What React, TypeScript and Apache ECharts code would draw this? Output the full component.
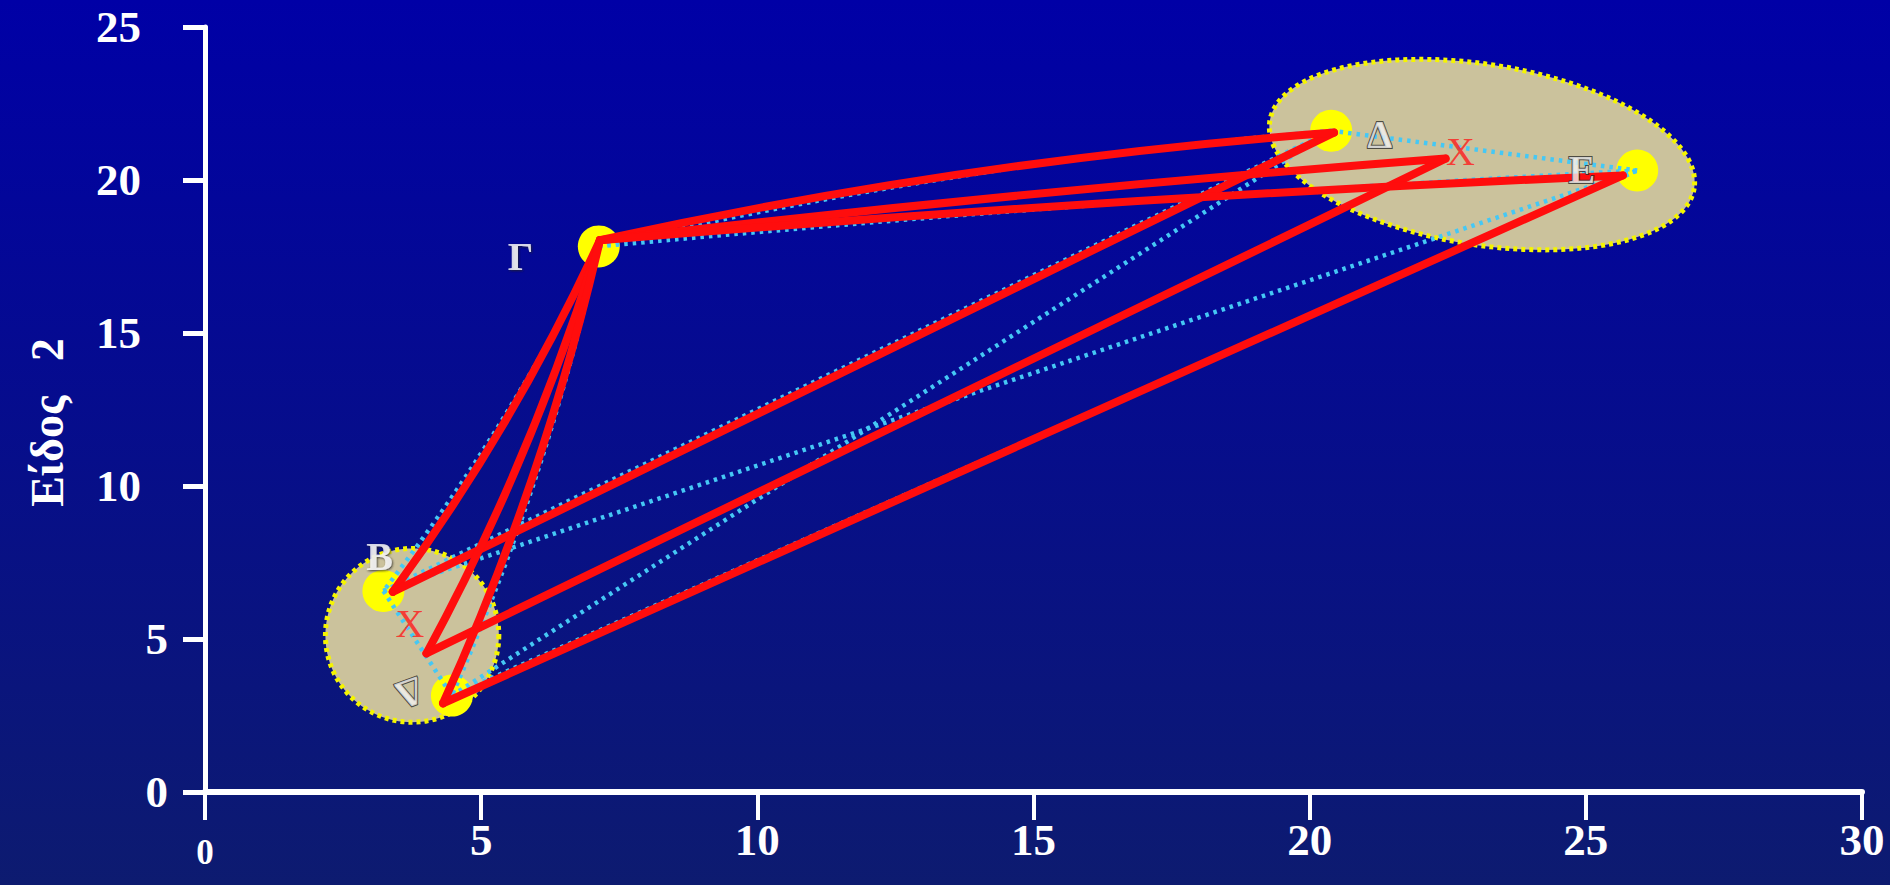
import React, { useEffect, useRef } from "react";
import * as echarts from "echarts";

// ---- axes ----
const xMin = 0, xMax = 30, xStep = 5;
const yMin = 0, yMax = 25, yStep = 5;
const yAxisTitle = "Είδος\u00A0\u00A0\u00A02";

// ---- objects (yellow points) ----
const objectKeys = ["B", "G", "D", "E", "D2"];
const objectX = [3.23, 7.13, 20.39, 25.93, 4.47];
const objectY = [6.57, 17.83, 21.61, 20.31, 3.15];

// ---- vertices of the red distance lines (objects + cluster centroids) ----
const vertexKeys = ["B", "G", "D", "E", "D2", "X1", "X2"];
const vertexX = [3.40, 7.15, 20.44, 25.67, 4.31, 4.01, 22.46];
const vertexY = [6.54, 18.03, 21.55, 20.15, 2.90, 4.53, 20.70];

// ---- red segments: three triangles sharing Γ ----
const redFrom = ["G", "B", "G", "G", "X1", "G", "G", "D2", "G"];
const redTo = ["B", "D", "D", "X1", "X2", "X2", "D2", "E", "E"];
const redCurve = [0.05, 0, 0.035, 0.05, 0, 0.01, 0.05, 0, 0.01];

// ---- cyan dotted segments: all pairs of objects ----
const cyanFrom = ["G", "G", "G", "G", "D", "B", "B", "B", "D2", "D2"];
const cyanTo = ["D", "E", "B", "D2", "E", "D2", "D", "E", "D", "E"];
const cyanCurve = [0.035, 0.01, 0.05, 0.05, 0, 0, 0, 0, 0, 0];

// ---- cluster ellipses ----
const clusterCx = [3.75, 23.12];
const clusterCy = [5.12, 20.83];
const clusterRx = [1.57, 3.89];
const clusterRy = [2.84, 2.95];
const clusterTiltDeg = [0, 9];

// ---- text labels ----
const labelText = ["B", "Γ", "Δ", "E", "Δ", "X", "X"];
const labelX = [3.16, 5.71, 21.27, 24.93, 3.71, 3.71, 22.73];
const labelY = [7.68, 17.5, 21.5, 20.35, 3.23, 5.5, 20.94];
const labelKind = ["white", "white", "emboss", "emboss", "embossRot", "red", "red"];

const SERIF = "'Liberation Serif', 'Times New Roman', serif";

function vx(k: string) { return vertexX[vertexKeys.indexOf(k)]; }
function vy(k: string) { return vertexY[vertexKeys.indexOf(k)]; }
function ox(k: string) { return objectX[objectKeys.indexOf(k)]; }
function oy(k: string) { return objectY[objectKeys.indexOf(k)]; }

export default function App() {
  const ref = useRef<HTMLDivElement>(null);

  useEffect(() => {
    if (!ref.current) return;
    const chart = echarts.init(ref.current, undefined, { renderer: "svg" });

    const redData = redFrom.map((f, i) => ({
      coords: [[vx(f), vy(f)], [vx(redTo[i]), vy(redTo[i])]],
      lineStyle: { curveness: redCurve[i] },
    }));
    const cyanData = cyanFrom.map((f, i) => ({
      coords: [[ox(f), oy(f)], [ox(cyanTo[i]), oy(cyanTo[i])]],
      lineStyle: { curveness: cyanCurve[i] },
    }));
    const ellipseData = clusterCx.map((cx, i) => [cx, clusterCy[i], clusterRx[i], clusterRy[i], clusterTiltDeg[i]]);

    const labelStyles: Record<string, any> = {
      white: { color: "#ffffff", fontSize: 40, fontWeight: "bold", textShadowColor: "#222", textShadowBlur: 2, textShadowOffsetX: 1, textShadowOffsetY: 1 },
      emboss: { color: "#f4f4f4", fontSize: 40, fontWeight: "bold", textBorderColor: "#2a2a2a", textBorderWidth: 2, textShadowColor: "#000", textShadowOffsetX: 2, textShadowOffsetY: 2 },
      embossRot: { color: "#f4f4f4", fontSize: 40, fontWeight: "bold", textBorderColor: "#2a2a2a", textBorderWidth: 2, rotate: -160 },
      red: { color: "#ff1a1a", fontSize: 40, fontWeight: "normal" },
    };
    const labelData = labelText.map((t, i) => ({
      name: t,
      value: [labelX[i], labelY[i]],
      label: { show: true, position: "inside", formatter: t, fontFamily: SERIF, ...labelStyles[labelKind[i]] },
    }));

    const option: any = {
      animation: false,
      backgroundColor: new echarts.graphic.LinearGradient(0, 0, 0, 1, [
        { offset: 0, color: "#0000a6" },
        { offset: 1, color: "#0d1b70" },
      ]),
      grid: { left: 205, right: 28, top: 27, bottom: 93, containLabel: false },
      xAxis: {
        type: "value", min: xMin, max: xMax, interval: xStep,
        splitLine: { show: false },
        axisLine: { lineStyle: { color: "#ffffff", width: 6 } },
        axisTick: { length: 28, lineStyle: { color: "#ffffff", width: 4 } },
        axisLabel: {
          margin: 25,
          color: "#ffffff",
          formatter: (v: number) => (v === 0 ? "{z|0}" : "{n|" + v + "}"),
          rich: {
            z: { fontFamily: SERIF, fontWeight: "bold", fontSize: 35, color: "#ffffff", padding: [18, 0, 0, 0] },
            n: { fontFamily: SERIF, fontWeight: "bold", fontSize: 45, color: "#ffffff" },
          },
        },
      },
      yAxis: {
        type: "value", min: yMin, max: yMax, interval: yStep,
        splitLine: { show: false },
        axisLine: { lineStyle: { color: "#ffffff", width: 5 } },
        axisTick: { length: 22, lineStyle: { color: "#ffffff", width: 5 } },
        axisLabel: {
          margin: 37,
          color: "#ffffff",
          formatter: (v: number) => (v < 10 ? "{s|" + v + "}" : "{d|" + v + "}"),
          rich: {
            s: { fontFamily: SERIF, fontWeight: "bold", fontSize: 45, color: "#ffffff" },
            d: { fontFamily: SERIF, fontWeight: "bold", fontSize: 45, color: "#ffffff", padding: [0, 27, 0, 0] },
          },
        },
        name: yAxisTitle,
        nameLocation: "middle",
        nameGap: 135,
        nameRotate: 90,
        nameTextStyle: { color: "#ffffff", fontFamily: SERIF, fontWeight: "bold", fontSize: 46, padding: [0, 26, 0, 0] },
      },
      series: [
        {
          type: "custom",
          z: 1,
          silent: true,
          encode: { x: 0, y: 1 },
          data: ellipseData,
          renderItem: (params: any, api: any) => {
            const c = api.coord([api.value(0), api.value(1)]);
            const s = api.size([api.value(2), api.value(3)]);
            const a = (api.value(4) * Math.PI) / 180;
            const pts: number[][] = [];
            for (let k = 0; k < 120; k++) {
              const t = (k / 120) * Math.PI * 2;
              const ex = Math.cos(t) * s[0];
              const ey = Math.sin(t) * s[1];
              pts.push([c[0] + ex * Math.cos(a) - ey * Math.sin(a), c[1] + ex * Math.sin(a) + ey * Math.cos(a)]);
            }
            return {
              type: "polygon",
              shape: { points: pts },
              style: { fill: "#cbc29c", stroke: "#f5f500", lineWidth: 5, lineDash: [4, 4] },
            };
          },
        },
        {
          type: "scatter",
          z: 2,
          symbolSize: 42,
          itemStyle: { color: "#ffff00", opacity: 1 },
          data: objectX.map((x, i) => [x, objectY[i]]),
        },
        {
          type: "lines",
          coordinateSystem: "cartesian2d",
          z: 3,
          lineStyle: { color: "#45c8f5", width: 4.5, type: [3.5, 5], opacity: 1 },
          data: cyanData,
        },
        {
          type: "lines",
          coordinateSystem: "cartesian2d",
          z: 4,
          lineStyle: { color: "#ff0d0d", width: 8, opacity: 1, cap: "round", join: "round" },
          data: redData,
        },
        {
          type: "scatter",
          z: 5,
          symbolSize: 1,
          itemStyle: { color: "rgba(0,0,0,0)" },
          data: labelData,
        },
      ],
    };
    chart.setOption(option);
    return () => chart.dispose();
  }, []);

  return <div ref={ref} style={{ position: "fixed", left: 0, top: 0, width: 1890, height: 885 }} />;
}
